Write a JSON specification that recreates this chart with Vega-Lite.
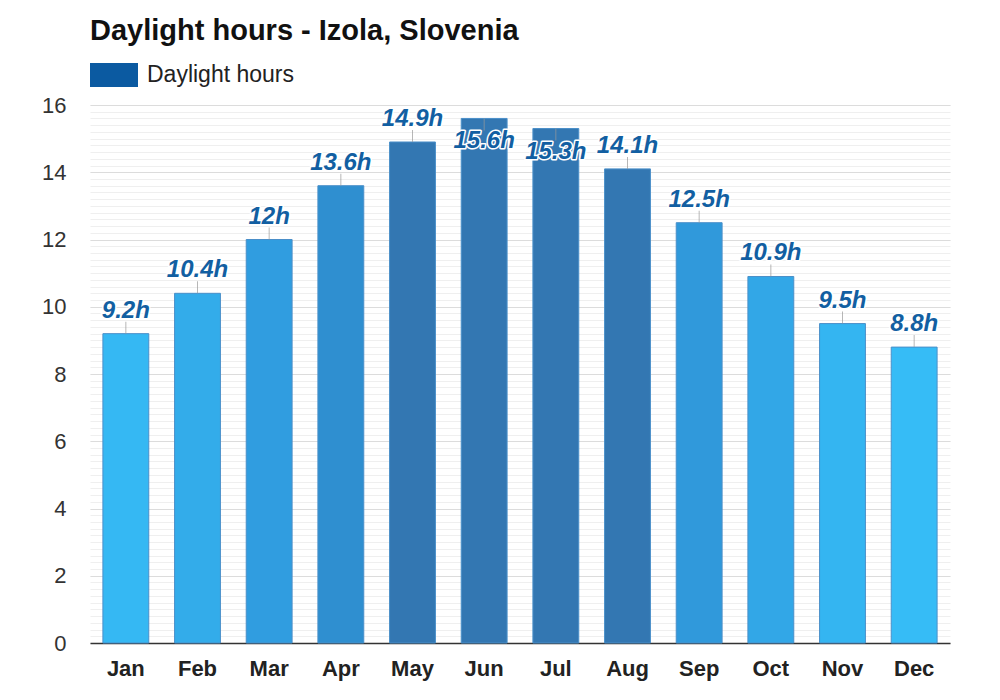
{
  "$schema": "https://vega.github.io/schema/vega-lite/v6.json",
  "width": 860,
  "height": 538,
  "autosize": {"type": "none"},
  "padding": {"left": 90, "top": 105, "right": 50, "bottom": 57},
  "background": "white",
  "title": {
    "text": "Daylight hours - Izola, Slovenia",
    "anchor": "start",
    "frame": "group",
    "font": "Liberation Sans",
    "fontSize": 29,
    "fontWeight": "bold",
    "color": "#111111",
    "offset": 5
  },
  "config": {
    "view": {"stroke": null},
    "axis": {"labelFont": "Liberation Sans", "titleFont": "Liberation Sans"},
    "legend": {"labelFont": "Liberation Sans"}
  },
  "data": {
    "values": [
      {"month": "Jan", "hours": 9.2, "label": "9.2h"},
      {"month": "Feb", "hours": 10.4, "label": "10.4h"},
      {"month": "Mar", "hours": 12.0, "label": "12h"},
      {"month": "Apr", "hours": 13.6, "label": "13.6h"},
      {"month": "May", "hours": 14.9, "label": "14.9h"},
      {"month": "Jun", "hours": 15.6, "label": "15.6h"},
      {"month": "Jul", "hours": 15.3, "label": "15.3h"},
      {"month": "Aug", "hours": 14.1, "label": "14.1h"},
      {"month": "Sep", "hours": 12.5, "label": "12.5h"},
      {"month": "Oct", "hours": 10.9, "label": "10.9h"},
      {"month": "Nov", "hours": 9.5, "label": "9.5h"},
      {"month": "Dec", "hours": 8.8, "label": "8.8h"}
    ]
  },
  "encoding": {
    "x": {
      "field": "month",
      "type": "ordinal",
      "sort": null,
      "scale": {"paddingInner": 0.36, "paddingOuter": 0.18},
      "axis": {
        "title": null,
        "labelAngle": 0,
        "labelFontSize": 22,
        "labelFontWeight": "bold",
        "labelColor": "#222222",
        "labelPadding": 15,
        "ticks": false,
        "domainColor": "#333333",
        "domainWidth": 1.5
      }
    },
    "y": {
      "field": "hours",
      "type": "quantitative",
      "scale": {"domain": [0, 16], "nice": false},
      "axis": null
    }
  },
  "layer": [
    {
      "mark": {"type": "bar", "stroke": "#4a8fc9", "strokeWidth": 1},
      "encoding": {
        "fill": {
          "field": "hours",
          "type": "quantitative",
          "legend": null,
          "scale": {
            "type": "linear",
            "domain": [8.8, 10.4, 12, 13.6, 14.1, 16],
            "range": ["#36bcf6", "#33acea", "#309de0", "#2f8fd0", "#3377b2", "#3377b2"],
            "clamp": true
          }
        },
        "y": {
          "field": "hours",
          "type": "quantitative",
          "axis": {
            "orient": "left",
            "title": null,
            "labels": false,
            "ticks": false,
            "domain": false,
            "grid": true,
            "gridColor": "#efefef",
            "gridWidth": 1,
            "values": [0, 0.2, 0.4, 0.6, 0.8, 1, 1.2, 1.4, 1.6, 1.8, 2, 2.2, 2.4, 2.6, 2.8, 3, 3.2, 3.4, 3.6, 3.8, 4, 4.2, 4.4, 4.6, 4.8, 5, 5.2, 5.4, 5.6, 5.8, 6, 6.2, 6.4, 6.6, 6.8, 7, 7.2, 7.4, 7.6, 7.8, 8, 8.2, 8.4, 8.6, 8.8, 9, 9.2, 9.4, 9.6, 9.8, 10, 10.2, 10.4, 10.6, 10.8, 11, 11.2, 11.4, 11.6, 11.8, 12, 12.2, 12.4, 12.6, 12.8, 13, 13.2, 13.4, 13.6, 13.8, 14, 14.2, 14.4, 14.6, 14.8, 15, 15.2, 15.4, 15.6, 15.8, 16]
          }
        }
      }
    },
    {
      "transform": [{"filter": "datum.hours < 15"}],
      "layer": [
        {
          "mark": {"type": "tick", "orient": "vertical", "size": 12, "thickness": 1, "color": "#999999", "yOffset": -6}
        },
        {
          "mark": {
            "type": "text", "dy": -23, "baseline": "middle", "align": "center",
            "font": "Liberation Sans", "fontSize": 24, "fontWeight": "bold", "fontStyle": "italic",
            "stroke": "white", "strokeWidth": 3, "strokeJoin": "round", "fill": "white"
          },
          "encoding": {"text": {"field": "label"}}
        },
        {
          "mark": {
            "type": "text", "dy": -23, "baseline": "middle", "align": "center",
            "font": "Liberation Sans", "fontSize": 24, "fontWeight": "bold", "fontStyle": "italic",
            "fill": "#125fa2"
          },
          "encoding": {"text": {"field": "label"}}
        }
      ]
    },
    {
      "transform": [{"filter": "datum.hours >= 15"}],
      "layer": [
        {
          "mark": {"type": "tick", "orient": "vertical", "size": 12, "thickness": 1, "color": "#999999", "yOffset": 6}
        },
        {
          "mark": {
            "type": "text", "dy": 23, "baseline": "middle", "align": "center",
            "font": "Liberation Sans", "fontSize": 24, "fontWeight": "bold", "fontStyle": "italic",
            "stroke": "white", "strokeWidth": 3, "strokeJoin": "round", "fill": "white"
          },
          "encoding": {"text": {"field": "label"}}
        },
        {
          "mark": {
            "type": "text", "dy": 23, "baseline": "middle", "align": "center",
            "font": "Liberation Sans", "fontSize": 24, "fontWeight": "bold", "fontStyle": "italic",
            "fill": "#125fa2"
          },
          "encoding": {"text": {"field": "label"}}
        }
      ]
    },
    {
      "mark": {"type": "square", "size": 0, "opacity": 0},
      "encoding": {
        "color": {
          "datum": "Daylight hours",
          "scale": {"range": ["#0b5aa1"]},
          "legend": {
            "title": null,
            "orient": "none",
            "legendX": 0,
            "legendY": -54,
            "padding": 0,
            "symbolType": "M-1,-0.5H1V0.5H-1Z",
            "symbolSize": 2304,
            "symbolOpacity": 1,
            "symbolStrokeWidth": 0,
            "symbolFillColor": "#0b5aa1",
            "labelFontSize": 23,
            "labelColor": "#222222",
            "labelOffset": 9
          }
        },
        "y": {
          "field": "hours",
          "type": "quantitative",
          "axis": {
            "orient": "left",
            "title": null,
            "values": [0, 2, 4, 6, 8, 10, 12, 14, 16],
            "labelFontSize": 22,
            "labelColor": "#333333",
            "labelPadding": 24,
            "ticks": false,
            "domain": false,
            "grid": true,
            "gridColor": "#dcdcdc",
            "gridWidth": 1
          }
        }
      }
    }
  ],
  "resolve": {"axis": {"y": "independent"}}
}
